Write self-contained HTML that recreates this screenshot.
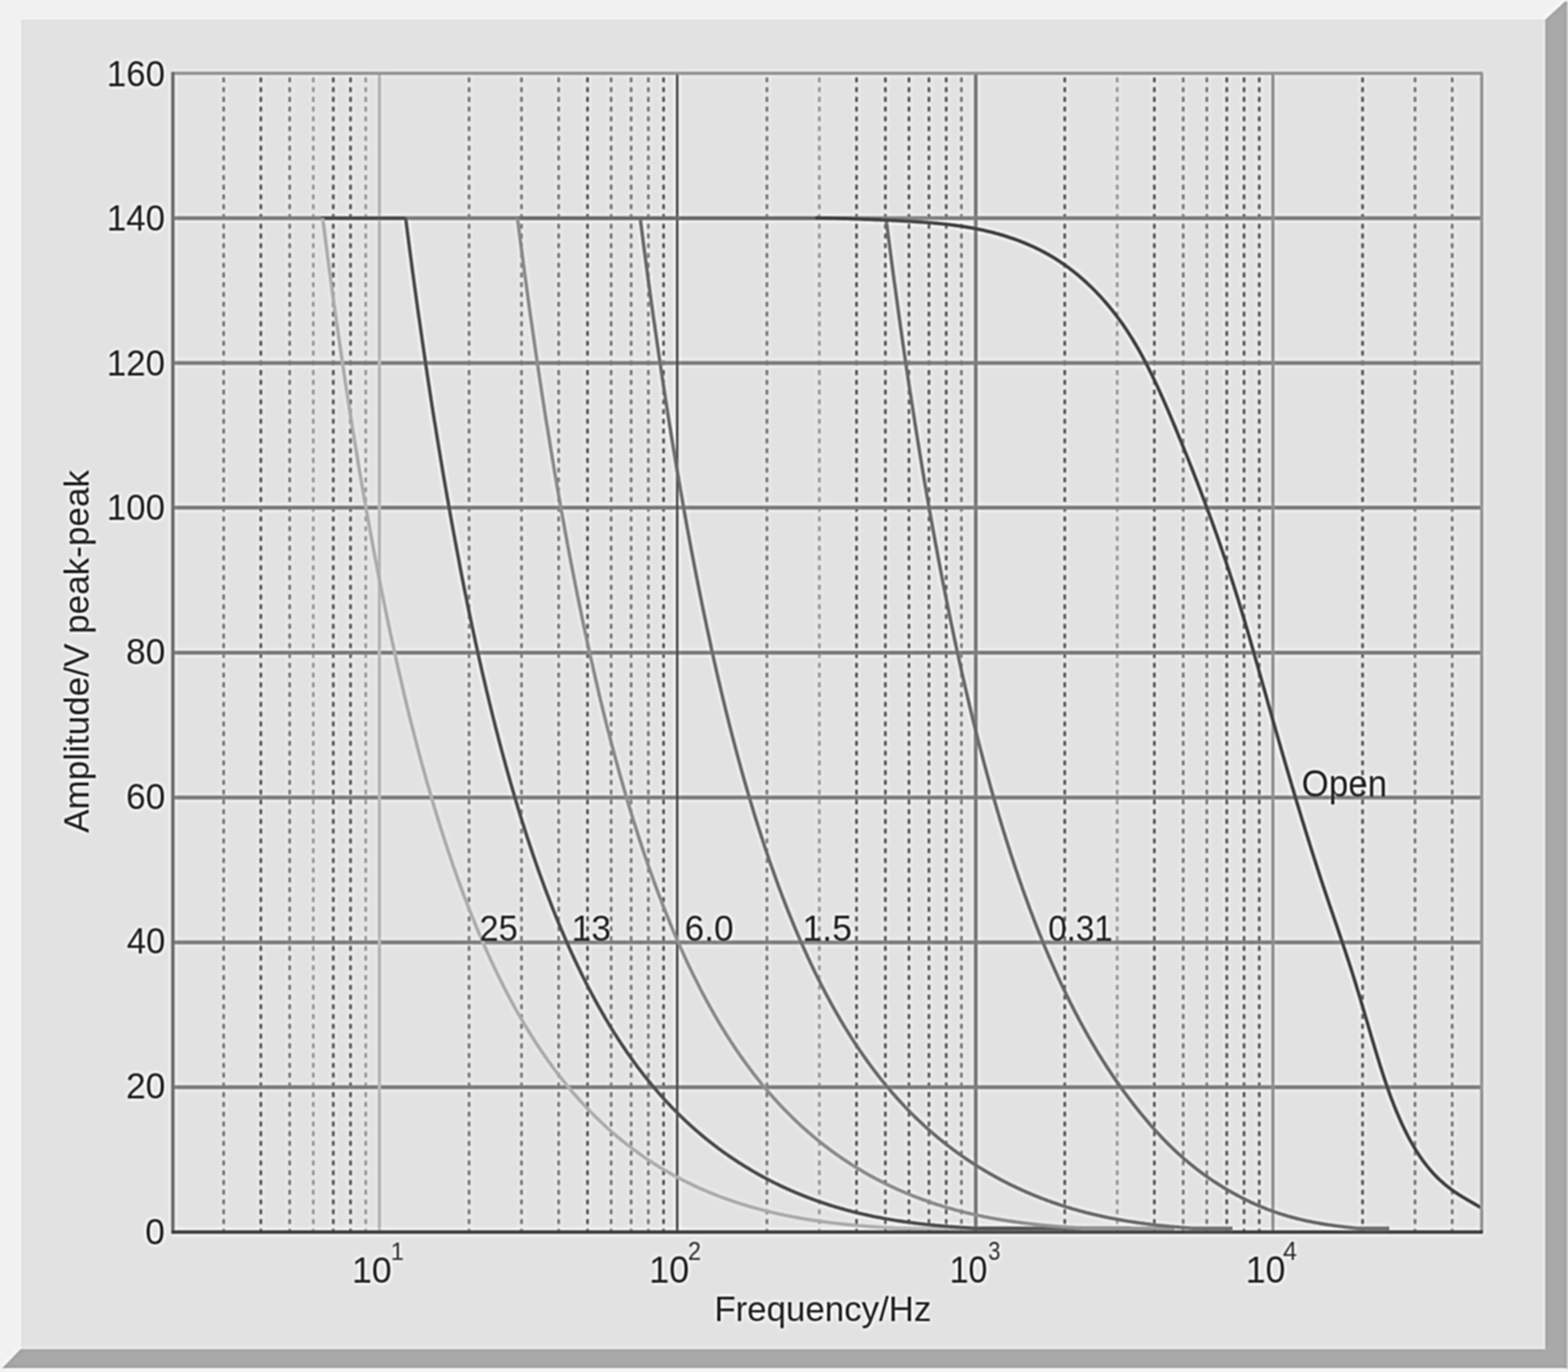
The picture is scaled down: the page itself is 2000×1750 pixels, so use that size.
<!DOCTYPE html>
<html><head><meta charset="utf-8"><title>Amplitude vs Frequency</title>
<style>html,body{margin:0;padding:0;background:#f1f1f1;overflow:hidden}svg{display:block}</style>
</head><body>
<svg width="2000" height="1750" viewBox="0 0 2000 1750"><defs><filter id="soft" x="-40" y="-40" width="2080" height="1830" filterUnits="userSpaceOnUse" color-interpolation-filters="sRGB"><feGaussianBlur in="SourceGraphic" stdDeviation="0.8" result="b1"/><feGaussianBlur in="SourceGraphic" stdDeviation="2.4" result="b2"/><feComposite in="b1" in2="b2" operator="arithmetic" k1="0" k2="1.8" k3="-0.8" k4="0"/></filter></defs><g filter="url(#soft)"><rect x="-60" y="-60" width="2120" height="1870" fill="#f1f1f1"/>
<polygon points="1971,25 1996,2 1998,2 1998,1745 3,1745 26,1721 1971,1721" fill="#a9a9a9"/>
<polygon points="1998,2 2000,2 2000,1746 1998,1746" fill="#c4c4c4"/>
<rect x="27" y="25" width="1944" height="1696" fill="#e2e2e2"/>
<path d="M332.7 93.4V1571.4M425.1 93.4V1571.4M447.1 93.4V1571.4M749.4 93.4V1571.4M846.4 93.4V1571.4M1092.5 93.4V1571.4M1129.3 93.4V1571.4M1159.4 93.4V1571.4M1184.9 93.4V1571.4M1206.9 93.4V1571.4M1358.1 93.4V1571.4M1472.4 93.4V1571.4M1564.8 93.4V1571.4M1586.8 93.4V1571.4M1606.2 93.4V1571.4M1738 93.4V1571.4" stroke="#6d6d6d" stroke-width="3.3" fill="none" stroke-dasharray="6.3 6.146" stroke-dashoffset="7.142"/>
<path d="M285.3 93.4V1571.4M369.5 93.4V1571.4M598.3 93.4V1571.4M665.2 93.4V1571.4M712.6 93.4V1571.4M779.5 93.4V1571.4M805 93.4V1571.4M827 93.4V1571.4M978.2 93.4V1571.4M1226.3 93.4V1571.4M1509.2 93.4V1571.4M1539.3 93.4V1571.4M1804.9 93.4V1571.4M1852.3 93.4V1571.4" stroke="#888888" stroke-width="3.3" fill="none" stroke-dasharray="6.3 6.146" stroke-dashoffset="7.142"/>
<path d="M399.6 93.4V1571.4M466.5 93.4V1571.4M1045.1 93.4V1571.4M1425 93.4V1571.4" stroke="#a3a3a3" stroke-width="3.3" fill="none" stroke-dasharray="6.3 6.146" stroke-dashoffset="7.142"/>
<path d="M220.5 1386.7H1889.9M220.5 1201.9H1889.9M220.5 1017.2H1889.9M220.5 832.4H1889.9M220.5 647.6H1889.9M220.5 462.9H1889.9M220.5 278.2H1889.9" stroke="#888888" stroke-width="5.0" fill="none"/>
<path d="M483.9 93.4V1571.4" stroke="#b9b9b9" stroke-width="4.0" fill="none"/>
<path d="M863.8 93.4V1571.4" stroke="#5a5a5a" stroke-width="3.0" fill="none"/>
<path d="M1244.6 93.4V1571.4" stroke="#868686" stroke-width="4.8" fill="none"/>
<path d="M1623.6 93.4V1571.4" stroke="#969696" stroke-width="3.8" fill="none"/>
<polyline points="410,278.2 517.5,278.2" stroke="#5e5e5e" stroke-width="4.4" fill="none" stroke-linejoin="round"/>
<polyline points="660.2,278.2 816.7,278.2" stroke="#787878" stroke-width="4.4" fill="none" stroke-linejoin="round"/>
<polyline points="816.7,278.2 1040,278.2" stroke="#777777" stroke-width="4.4" fill="none" stroke-linejoin="round"/>
<polyline points="411.8,278.2 411.8,280.7 412,282.3 412.2,283.8 412.4,285.4 412.7,287 412.9,288.6 413.1,290.1 413.3,291.7 413.5,293.2 413.7,294.8 413.9,296.4 414.1,297.9 414.3,299.5 414.5,301 414.7,302.6 414.9,304.1 415.1,305.7 415.3,307.2 415.5,308.8 415.7,310.3 415.9,311.9 416.1,313.4 416.3,314.9 416.5,316.5 416.7,318 416.9,319.5 417.1,321.1 417.3,322.6 417.5,324.1 417.7,325.6 417.9,327.2 418.1,328.7 418.3,330.2 418.5,331.7 418.7,333.2 418.9,334.7 419.1,336.3 419.3,337.8 419.5,339.3 419.7,340.8 419.9,342.3 420.1,343.8 420.3,345.3 420.5,346.8 420.7,348.3 420.9,349.8 421.1,351.3 421.3,352.8 421.5,354.3 421.7,355.7 421.9,357.2 422.1,358.7 422.3,360.2 422.5,361.7 422.7,363.1 422.9,364.6 423.1,366.1 423.3,367.6 423.5,369 423.7,370.5 423.9,372 424.1,373.4 424.3,374.9 424.5,376.4 424.7,377.8 424.9,379.3 425.1,380.7 425.3,382.2 425.5,383.7 425.7,385.1 425.9,386.6 426.1,388 426.3,389.5 426.5,390.9 426.7,392.3 426.9,393.8 427.1,395.2 427.3,396.7 427.5,398.1 427.7,399.5 427.9,401 428.1,402.4 428.3,403.8 428.5,405.2 428.7,406.7 428.9,408.1 429.1,409.5 429.3,410.9 429.5,412.4 429.7,413.8 429.9,415.2 430.1,416.6 430.3,418 430.5,419.4 430.7,420.8 430.9,422.2 431.1,423.6 431.3,425 431.5,426.5 431.7,427.9 431.9,429.2 432.1,430.6 432.3,432 432.6,433.4 432.8,434.8 433,436.2 433.2,437.6 433.4,439 433.6,440.4 433.8,441.8 434,443.1 434.2,444.5 434.4,445.9 434.6,447.3 434.8,448.6 435,450 435.2,451.4 435.4,452.8 435.6,454.1 435.8,455.5 436,456.9 436.2,458.2 436.4,459.6 436.6,460.9 436.8,462.3 437,463.7 437.2,465 437.4,466.4 437.6,467.7 437.8,469.1 438,470.4 438.2,471.8 438.4,473.1 438.6,474.4 438.8,475.8 439,477.1 439.2,478.5 439.4,479.8 439.6,481.1 439.8,482.5 440,483.8 440.2,485.1 440.4,486.5 440.6,487.8 440.8,489.1 441,490.4 441.2,491.8 441.4,493.1 441.6,494.4 441.8,495.7 442,497 442.2,498.3 442.4,499.7 442.6,501 442.8,502.3 443,503.6 443.2,504.9 443.4,506.2 443.6,507.5 443.8,508.8 444,510.1 444.2,511.4 444.4,512.7 444.6,514 444.8,515.3 445,516.6 445.2,517.9 445.4,519.2 445.6,520.4 445.8,521.7 446,523 446.2,524.3 446.4,525.6 446.6,526.9 446.8,528.1 447,529.4 447.2,530.7 447.4,532 447.6,533.2 447.8,534.5 448,535.8 448.2,537 448.4,538.3 448.6,539.6 448.8,540.8 449,542.1 449.2,543.3 449.4,544.6 449.6,545.9 449.8,547.1 450,548.4 450.2,549.6 450.4,550.9 450.6,552.1 450.8,553.4 451,554.6 451.2,555.9 451.4,557.1 451.6,558.3 451.8,559.6 453.3,568.8 454.8,577.9 456.3,586.9 457.8,595.8 459.3,604.7 460.8,613.5 462.3,622.2 463.8,630.8 465.3,639.4 466.8,647.8 468.3,656.2 469.8,664.5 471.3,672.8 472.8,681 474.3,689.1 475.8,697.1 477.3,705 478.8,712.9 480.3,720.7 481.8,728.5 483.3,736.1 484.8,743.7 486.3,751.3 487.8,758.7 489.3,766.1 490.8,773.5 492.3,780.7 493.8,787.9 495.3,795.1 496.8,802.1 498.3,809.1 499.8,816.1 501.3,823 502.8,829.8 504.3,836.5 505.8,843.2 507.3,849.9 508.8,856.5 510.3,863 511.8,869.4 513.3,875.8 514.7,882.2 516.2,888.5 517.7,894.7 519.2,900.9 520.7,907 522.2,913.1 523.7,919.1 525.2,925 526.7,930.9 528.2,936.8 529.7,942.6 531.2,948.3 532.7,954 534.2,959.7 535.7,965.3 537.2,970.8 538.7,976.3 540.2,981.7 541.7,987.1 543.2,992.5 544.7,997.8 546.2,1003 547.7,1008.2 549.2,1013.4 550.7,1018.5 552.2,1023.6 553.7,1028.6 555.2,1033.6 556.7,1038.5 558.2,1043.4 559.7,1048.2 561.2,1053 562.7,1057.8 564.2,1062.5 565.7,1067.2 567.2,1071.8 568.7,1076.4 570.2,1080.9 571.7,1085.4 573.2,1089.9 574.7,1094.3 576.2,1098.7 577.6,1103.1 579.1,1107.4 580.6,1111.6 582.1,1115.9 583.6,1120.1 585.1,1124.2 586.6,1128.3 588.1,1132.4 589.6,1136.5 591.1,1140.5 592.6,1144.5 594.1,1148.4 595.6,1152.3 597.1,1156.2 598.6,1160 600.1,1163.8 601.6,1167.6 603.1,1171.3 604.6,1175 606.1,1178.7 607.6,1182.3 609.1,1185.9 610.6,1189.5 612.1,1193 613.6,1196.5 615.1,1200 616.6,1203.5 618.1,1206.9 619.6,1210.3 621.1,1213.6 622.6,1216.9 624.1,1220.2 625.6,1223.5 627.1,1226.7 628.6,1229.9 630.1,1233.1 631.6,1236.3 633.1,1239.4 634.6,1242.5 636.1,1245.6 637.6,1248.6 639.1,1251.6 640.6,1254.6 642,1257.6 643.5,1260.5 645,1263.4 646.5,1266.3 648,1269.1 649.5,1272 651,1274.8 652.5,1277.6 654,1280.3 655.5,1283.1 657,1285.8 658.5,1288.5 660,1291.1 661.5,1293.8 663,1296.4 664.5,1299 666,1301.5 667.5,1304.1 669,1306.6 670.5,1309.1 672,1311.6 673.5,1314 675,1316.5 676.5,1318.9 678,1321.3 679.5,1323.7 681,1326 682.5,1328.3 684,1330.7 685.5,1332.9 687,1335.2 688.5,1337.5 690,1339.7 691.5,1341.9 693,1344.1 694.5,1346.3 696,1348.4 697.5,1350.6 699,1352.7 700.5,1354.8 702,1356.8 703.5,1358.9 704.9,1360.9 706.4,1363 707.9,1365 709.4,1367 710.9,1368.9 712.4,1370.9 713.9,1372.8 715.4,1374.8 716.9,1376.7 718.4,1378.5 719.9,1380.4 721.4,1382.3 722.9,1384.1 724.4,1385.9 725.9,1387.7 727.4,1389.5 728.9,1391.3 730.4,1393.1 731.9,1394.8 733.4,1396.5 734.9,1398.3 736.4,1400 737.9,1401.6 739.4,1403.3 740.9,1405 742.4,1406.6 743.9,1408.2 745.4,1409.8 746.9,1411.4 748.4,1413 749.9,1414.6 751.4,1416.2 752.9,1417.7 754.4,1419.2 755.9,1420.7 757.4,1422.2 758.9,1423.7 760.4,1425.2 761.9,1426.7 763.4,1428.1 764.9,1429.6 766.4,1431 767.9,1432.4 769.3,1433.8 770.8,1435.2 772.3,1436.6 773.8,1438 775.3,1439.3 776.8,1440.6 778.3,1442 779.8,1443.3 781.3,1444.6 782.8,1445.9 784.3,1447.2 785.8,1448.5 787.3,1449.7 788.8,1451 790.3,1452.2 791.8,1453.5 793.3,1454.7 794.8,1455.9 796.3,1457.1 797.8,1458.3 799.3,1459.4 800.8,1460.6 802.3,1461.8 803.8,1462.9 805.3,1464.1 806.8,1465.2 808.3,1466.3 809.8,1467.4 811.3,1468.5 812.8,1469.6 814.3,1470.7 815.8,1471.7 817.3,1472.8 818.8,1473.9 820.3,1474.9 821.8,1475.9 823.3,1477 824.8,1478 826.3,1479 827.8,1480 829.3,1481 830.8,1481.9 832.2,1482.9 833.7,1483.9 835.2,1484.8 836.7,1485.8 838.2,1486.7 839.7,1487.6 841.2,1488.6 842.7,1489.5 844.2,1490.4 845.7,1491.3 847.2,1492.2 848.7,1493.1 850.2,1493.9 851.7,1494.8 853.2,1495.7 854.7,1496.5 856.2,1497.3 857.7,1498.2 859.2,1499 860.7,1499.8 862.2,1500.6 863.7,1501.4 865.2,1502.2 866.7,1503 868.2,1503.8 869.7,1504.6 871.2,1505.4 872.7,1506.1 874.2,1506.9 875.7,1507.6 877.2,1508.4 878.7,1509.1 880.2,1509.8 881.7,1510.5 883.2,1511.3 884.7,1512 886.2,1512.7 887.7,1513.4 889.2,1514.1 890.7,1514.7 892.2,1515.4 893.7,1516.1 895.2,1516.7 896.6,1517.4 898.1,1518 899.6,1518.7 901.1,1519.3 902.6,1520 904.1,1520.6 905.6,1521.2 907.1,1521.8 908.6,1522.4 910.1,1523 911.6,1523.6 913.1,1524.2 914.6,1524.8 916.1,1525.4 917.6,1526 919.1,1526.5 920.6,1527.1 922.1,1527.6 923.6,1528.2 925.1,1528.7 926.6,1529.3 928.1,1529.8 929.6,1530.3 931.1,1530.9 932.6,1531.4 934.1,1531.9 935.6,1532.4 937.1,1532.9 938.6,1533.4 940.1,1533.9 941.6,1534.4 943.1,1534.9 944.6,1535.3 946.1,1535.8 947.6,1536.3 949.1,1536.7 950.6,1537.2 952.1,1537.6 953.6,1538.1 955.1,1538.5 956.6,1539 958.1,1539.4 959.5,1539.8 961,1540.3 962.5,1540.7 964,1541.1 965.5,1541.5 967,1541.9 968.5,1542.3 970,1542.7 971.5,1543.1 973,1543.5 974.5,1543.9 976,1544.3 977.5,1544.6 979,1545 980.5,1545.4 982,1545.7 983.5,1546.1 985,1546.4 986.5,1546.8 988,1547.1 989.5,1547.5 991,1547.8 992.5,1548.2 994,1548.5 995.5,1548.8 997,1549.1 998.5,1549.4 1000,1549.8 1001.5,1550.1 1003,1550.4 1004.5,1550.7 1006,1551 1007.5,1551.3 1009,1551.6 1010.5,1551.9 1012,1552.1 1013.5,1552.4 1015,1552.7 1016.5,1553 1018,1553.3 1019.5,1553.5 1021,1553.8 1022.5,1554 1023.9,1554.3 1025.4,1554.6 1026.9,1554.8 1028.4,1555.1 1029.9,1555.3 1031.4,1555.5 1032.9,1555.8 1034.4,1556 1035.9,1556.2 1037.4,1556.5 1038.9,1556.7 1040.4,1556.9 1041.9,1557.1 1043.4,1557.4 1044.9,1557.6 1046.4,1557.8 1047.9,1558 1049.4,1558.2 1050.9,1558.4 1052.4,1558.6 1053.9,1558.8 1055.4,1559 1056.9,1559.2 1058.4,1559.4 1059.9,1559.6 1061.4,1559.8 1062.9,1559.9 1064.4,1560.1 1065.9,1560.3 1067.4,1560.5 1068.9,1560.6 1070.4,1560.8 1071.9,1561 1073.4,1561.1 1074.9,1561.3 1076.4,1561.5 1077.9,1561.6 1079.4,1561.8 1080.9,1561.9 1082.4,1562.1 1083.9,1562.2 1085.4,1562.4 1086.9,1562.5 1088.3,1562.7 1089.8,1562.8 1091.3,1562.9 1092.8,1563.1 1094.3,1563.2 1095.8,1563.4 1097.3,1563.5 1098.8,1563.6 1100.3,1563.7 1101.8,1563.9 1103.3,1564 1104.8,1564.1 1106.3,1564.2 1107.8,1564.3 1109.3,1564.5 1110.8,1564.6 1112.3,1564.7 1113.8,1564.8 1115.3,1564.9 1116.8,1565 1118.3,1565.1 1119.8,1565.2 1121.3,1565.3 1122.8,1565.4 1124.3,1565.5 1125.8,1565.6 1127.3,1565.7 1128.8,1565.8 1130.3,1565.9 1131.8,1566 1133.3,1566.1 1134.8,1566.2 1136.3,1566.3 1137.8,1566.3 1139.3,1566.4 1140.8,1566.5 1142.3,1566.6 1143.8,1566.7 1145.3,1566.8 1146.8,1566.8 1148.3,1566.8 1149.8,1566.8 1151.2,1566.8 1152.7,1566.8 1154.2,1566.8 1155.7,1566.8 1157.2,1566.8 1158.7,1566.8 1160.2,1566.8 1161.7,1566.8 1163.2,1566.8 1164.7,1566.8 1166.2,1566.8 1167.7,1566.8 1169.2,1566.8 1170.7,1566.8 1172.2,1566.8 1173.7,1566.8 1175.2,1566.8 1176.7,1566.8 1178.2,1566.8 1179.7,1566.8 1181.2,1566.8 1182.7,1566.8 1184.2,1566.8 1185.7,1566.8 1187.2,1566.8 1188.7,1566.8 1190.2,1566.8 1191.7,1566.8 1193.2,1566.8 1194.7,1566.8 1196.2,1566.8 1197.7,1566.8 1199.2,1566.8 1200.7,1566.8 1202.2,1566.8 1203.7,1566.8 1205.2,1566.8 1206.7,1566.8 1208.2,1566.8 1209.7,1566.8 1211.2,1566.8 1212.7,1566.8 1214.2,1566.8 1215.6,1566.8 1217.1,1566.8 1218.6,1566.8 1220.1,1566.8 1221.6,1566.8 1223.1,1566.8 1224.6,1566.8 1226.1,1566.8 1227.6,1566.8 1229.1,1566.8 1230.6,1566.8 1232.1,1566.8 1233.6,1566.8 1235.1,1566.8 1236.6,1566.8 1238.1,1566.8 1239.6,1566.8 1241.1,1566.8 1242.6,1566.8 1244.1,1566.8 1245.6,1566.8 1247.1,1566.8 1248.6,1566.8 1250.1,1566.8 1251.6,1566.8 1253.1,1566.8 1254.6,1566.8 1256.1,1566.8 1257.6,1566.8 1259.1,1566.8 1260.6,1566.8 1262.1,1566.8 1263.6,1566.8 1265.1,1566.8 1266.6,1566.8 1268.1,1566.8 1269.6,1566.8 1271.1,1566.8 1272.6,1566.8 1274.1,1566.8 1275.6,1566.8 1277.1,1566.8 1278.5,1566.8 1280,1566.8 1281.5,1566.8 1283,1566.8 1284.5,1566.8 1286,1566.8 1287.5,1566.8 1289,1566.8 1290.5,1566.8 1292,1566.8 1293.5,1566.8 1295,1566.8 1296.5,1566.8 1298,1566.8 1299.5,1566.8 1301,1566.8 1302.5,1566.8 1304,1566.8 1305.5,1566.8 1307,1566.8 1308.5,1566.8 1310,1566.8 1310,1566.8" stroke="#b2b2b2" stroke-width="4.4" fill="none" stroke-linejoin="round"/>
<polyline points="517.5,278.2 517.7,280.4 517.9,282 518.1,283.5 518.3,285.1 518.5,286.7 518.7,288.2 518.9,289.8 519.1,291.4 519.3,292.9 519.5,294.5 519.7,296 519.9,297.6 520.1,299.1 520.3,300.7 520.5,302.2 520.7,303.8 520.9,305.3 521.1,306.9 521.3,308.4 521.5,310 521.7,311.5 521.9,313 522.1,314.6 522.3,316.1 522.5,317.6 522.7,319.2 522.9,320.7 523.1,322.2 523.3,323.7 523.5,325.3 523.7,326.8 523.9,328.3 524.1,329.8 524.3,331.3 524.5,332.8 524.7,334.3 524.9,335.8 525.1,337.4 525.3,338.9 525.5,340.4 525.7,341.9 525.9,343.4 526.1,344.9 526.3,346.4 526.5,347.8 526.7,349.3 526.9,350.8 527.1,352.3 527.3,353.8 527.5,355.3 527.7,356.8 527.9,358.3 528.1,359.7 528.3,361.2 528.5,362.7 528.7,364.2 528.9,365.6 529.1,367.1 529.3,368.6 529.5,370 529.7,371.5 529.9,373 530.1,374.4 530.3,375.9 530.5,377.3 530.7,378.8 530.9,380.2 531.1,381.7 531.3,383.1 531.5,384.6 531.7,386 531.9,387.5 532.1,388.9 532.3,390.4 532.5,391.8 532.7,393.3 532.9,394.7 533.1,396.1 533.3,397.6 533.5,399 533.7,400.4 533.9,401.8 534.1,403.3 534.3,404.7 534.6,406.1 534.8,407.5 535,409 535.2,410.4 535.4,411.8 535.6,413.2 535.8,414.6 536,416 536.2,417.4 536.4,418.8 536.6,420.2 536.8,421.7 537,423.1 537.2,424.5 537.4,425.9 537.6,427.2 537.8,428.6 538,430 538.2,431.4 538.4,432.8 538.6,434.2 538.8,435.6 539,437 539.2,438.4 539.4,439.7 539.6,441.1 539.8,442.5 540,443.9 540.2,445.3 540.4,446.6 540.6,448 540.8,449.4 541,450.7 541.2,452.1 541.4,453.5 541.6,454.8 541.8,456.2 542,457.5 542.2,458.9 542.4,460.3 542.6,461.6 542.8,463 543,464.3 543.2,465.7 543.4,467 543.6,468.4 543.8,469.7 544,471.1 544.2,472.4 544.4,473.7 544.6,475.1 544.8,476.4 545,477.7 545.2,479.1 545.4,480.4 545.6,481.7 545.8,483.1 546,484.4 546.2,485.7 546.4,487.1 546.6,488.4 546.8,489.7 547,491 547.2,492.3 547.4,493.6 547.6,495 547.8,496.3 548,497.6 548.2,498.9 548.4,500.2 548.6,501.5 548.8,502.8 549,504.1 549.2,505.4 549.4,506.7 549.6,508 549.8,509.3 550,510.6 550.2,511.9 550.4,513.2 550.6,514.5 550.8,515.8 551,517.1 551.2,518.3 551.4,519.6 551.6,520.9 551.8,522.2 552,523.5 552.2,524.8 552.4,526 552.6,527.3 552.8,528.6 553,529.8 553.2,531.1 553.4,532.4 553.6,533.7 553.8,534.9 554,536.2 554.2,537.4 554.5,538.7 554.7,540 554.9,541.2 555.1,542.5 555.3,543.7 555.5,545 555.7,546.2 555.9,547.5 556.1,548.7 556.3,550 556.5,551.2 556.7,552.5 556.9,553.7 557.1,555 557.3,556.2 557.5,557.4 559,566.6 560.5,575.7 562,584.8 563.5,593.7 565,602.6 566.5,611.3 568,620 569.5,628.7 571,637.2 572.5,645.7 574,654.1 575.5,662.4 577,670.6 578.5,678.8 580,686.9 581.5,694.9 583,702.9 584.5,710.7 586,718.5 587.4,726.3 588.9,733.9 590.4,741.5 591.9,749.1 593.4,756.5 594.9,763.9 596.4,771.2 597.9,778.5 599.4,785.7 600.9,792.8 602.4,799.9 603.9,806.9 605.4,813.8 606.9,820.7 608.4,827.5 609.9,834.3 611.4,841 612.9,847.6 614.4,854.2 615.9,860.7 617.4,867.1 618.9,873.5 620.4,879.9 621.9,886.1 623.4,892.4 624.9,898.5 626.4,904.7 627.9,910.7 629.4,916.7 630.9,922.7 632.4,928.6 633.9,934.4 635.4,940.2 636.9,945.9 638.4,951.6 639.9,957.2 641.4,962.8 642.9,968.4 644.4,973.9 645.9,979.3 647.4,984.7 648.9,990 650.4,995.3 651.9,1000.5 653.4,1005.7 654.9,1010.9 656.4,1016 657.9,1021 659.4,1026.1 660.9,1031 662.4,1035.9 663.9,1040.8 665.4,1045.7 666.9,1050.4 668.4,1055.2 669.9,1059.9 671.4,1064.6 672.9,1069.2 674.4,1073.8 675.9,1078.3 677.4,1082.8 678.9,1087.2 680.4,1091.7 681.9,1096 683.4,1100.4 684.9,1104.7 686.4,1108.9 687.9,1113.2 689.4,1117.3 690.9,1121.5 692.4,1125.6 693.9,1129.7 695.4,1133.7 696.9,1137.7 698.4,1141.7 699.9,1145.6 701.4,1149.5 702.9,1153.4 704.4,1157.2 705.9,1161 707.4,1164.7 708.9,1168.5 710.4,1172.2 711.9,1175.8 713.4,1179.4 714.9,1183 716.4,1186.6 717.9,1190.1 719.4,1193.6 720.9,1197.1 722.4,1200.5 723.9,1203.9 725.4,1207.3 726.9,1210.6 728.4,1214 729.9,1217.2 731.4,1220.5 732.9,1223.7 734.4,1226.9 735.9,1230.1 737.4,1233.2 738.9,1236.3 740.4,1239.4 741.9,1242.5 743.4,1245.5 744.9,1248.5 746.4,1251.5 747.9,1254.5 749.4,1257.4 750.9,1260.3 752.4,1263.2 753.9,1266 755.4,1268.8 756.9,1271.6 758.4,1274.4 759.9,1277.1 761.4,1279.9 762.9,1282.6 764.4,1285.2 765.9,1287.9 767.4,1290.5 768.9,1293.1 770.4,1295.7 771.9,1298.3 773.4,1300.8 774.9,1303.3 776.4,1305.8 777.8,1308.3 779.3,1310.8 780.8,1313.2 782.3,1315.6 783.8,1318 785.3,1320.3 786.8,1322.7 788.3,1325 789.8,1327.3 791.3,1329.6 792.8,1331.9 794.3,1334.1 795.8,1336.3 797.3,1338.5 798.8,1340.7 800.3,1342.9 801.8,1345 803.3,1347.2 804.8,1349.3 806.3,1351.4 807.8,1353.4 809.3,1355.5 810.8,1357.5 812.3,1359.6 813.8,1361.6 815.3,1363.5 816.8,1365.5 818.3,1367.5 819.8,1369.4 821.3,1371.3 822.8,1373.2 824.3,1375.1 825.8,1377 827.3,1378.8 828.8,1380.7 830.3,1382.5 831.8,1384.3 833.3,1386.1 834.8,1387.9 836.3,1389.6 837.8,1391.4 839.3,1393.1 840.8,1394.8 842.3,1396.5 843.8,1398.2 845.3,1399.9 846.8,1401.5 848.3,1403.2 849.8,1404.8 851.3,1406.4 852.8,1408 854.3,1409.6 855.8,1411.2 857.3,1412.7 858.8,1414.3 860.3,1415.8 861.8,1417.3 863.3,1418.8 864.8,1420.3 866.3,1421.8 867.8,1423.3 869.3,1424.7 870.8,1426.2 872.3,1427.6 873.8,1429 875.3,1430.5 876.8,1431.9 878.3,1433.2 879.8,1434.6 881.3,1436 882.8,1437.3 884.3,1438.7 885.8,1440 887.3,1441.3 888.8,1442.6 890.3,1443.9 891.8,1445.2 893.3,1446.5 894.8,1447.7 896.3,1449 897.8,1450.2 899.3,1451.5 900.8,1452.7 902.3,1453.9 903.8,1455.1 905.3,1456.3 906.8,1457.5 908.3,1458.6 909.8,1459.8 911.3,1461 912.8,1462.1 914.3,1463.2 915.8,1464.4 917.3,1465.5 918.8,1466.6 920.3,1467.7 921.8,1468.8 923.3,1469.8 924.8,1470.9 926.3,1472 927.8,1473 929.3,1474.1 930.8,1475.1 932.3,1476.1 933.8,1477.1 935.3,1478.2 936.8,1479.2 938.3,1480.1 939.8,1481.1 941.3,1482.1 942.8,1483.1 944.3,1484 945.8,1485 947.3,1485.9 948.8,1486.9 950.3,1487.8 951.8,1488.7 953.3,1489.6 954.8,1490.5 956.3,1491.4 957.8,1492.3 959.3,1493.2 960.8,1494.1 962.3,1494.9 963.8,1495.8 965.3,1496.7 966.7,1497.5 968.2,1498.3 969.7,1499.2 971.2,1500 972.7,1500.8 974.2,1501.6 975.7,1502.4 977.2,1503.2 978.7,1504 980.2,1504.8 981.7,1505.6 983.2,1506.4 984.7,1507.1 986.2,1507.9 987.7,1508.6 989.2,1509.4 990.7,1510.1 992.2,1510.8 993.7,1511.6 995.2,1512.3 996.7,1513 998.2,1513.7 999.7,1514.4 1001.2,1515.1 1002.7,1515.8 1004.2,1516.5 1005.7,1517.1 1007.2,1517.8 1008.7,1518.5 1010.2,1519.1 1011.7,1519.8 1013.2,1520.4 1014.7,1521 1016.2,1521.7 1017.7,1522.3 1019.2,1522.9 1020.7,1523.5 1022.2,1524.1 1023.7,1524.7 1025.2,1525.3 1026.7,1525.9 1028.2,1526.5 1029.7,1527.1 1031.2,1527.7 1032.7,1528.2 1034.2,1528.8 1035.7,1529.4 1037.2,1529.9 1038.7,1530.5 1040.2,1531 1041.7,1531.5 1043.2,1532.1 1044.7,1532.6 1046.2,1533.1 1047.7,1533.6 1049.2,1534.1 1050.7,1534.6 1052.2,1535.1 1053.7,1535.6 1055.2,1536.1 1056.7,1536.6 1058.2,1537.1 1059.7,1537.6 1061.2,1538 1062.7,1538.5 1064.2,1539 1065.7,1539.4 1067.2,1539.9 1068.7,1540.3 1070.2,1540.7 1071.7,1541.2 1073.2,1541.6 1074.7,1542 1076.2,1542.4 1077.7,1542.9 1079.2,1543.3 1080.7,1543.7 1082.2,1544.1 1083.7,1544.5 1085.2,1544.9 1086.7,1545.3 1088.2,1545.6 1089.7,1546 1091.2,1546.4 1092.7,1546.8 1094.2,1547.1 1095.7,1547.5 1097.2,1547.8 1098.7,1548.2 1100.2,1548.5 1101.7,1548.9 1103.2,1549.2 1104.7,1549.5 1106.2,1549.9 1107.7,1550.2 1109.2,1550.5 1110.7,1550.8 1112.2,1551.2 1113.7,1551.5 1115.2,1551.8 1116.7,1552.1 1118.2,1552.4 1119.7,1552.7 1121.2,1552.9 1122.7,1553.2 1124.2,1553.5 1125.7,1553.8 1127.2,1554.1 1128.7,1554.3 1130.2,1554.6 1131.7,1554.9 1133.2,1555.1 1134.7,1555.4 1136.2,1555.6 1137.7,1555.9 1139.2,1556.1 1140.7,1556.4 1142.2,1556.6 1143.7,1556.9 1145.2,1557.1 1146.7,1557.3 1148.2,1557.5 1149.7,1557.8 1151.2,1558 1152.7,1558.2 1154.2,1558.4 1155.7,1558.6 1157.1,1558.8 1158.6,1559 1160.1,1559.2 1161.6,1559.4 1163.1,1559.6 1164.6,1559.8 1166.1,1560 1167.6,1560.2 1169.1,1560.4 1170.6,1560.6 1172.1,1560.8 1173.6,1560.9 1175.1,1561.1 1176.6,1561.3 1178.1,1561.4 1179.6,1561.6 1181.1,1561.8 1182.6,1561.9 1184.1,1562.1 1185.6,1562.2 1187.1,1562.4 1188.6,1562.5 1190.1,1562.7 1191.6,1562.8 1193.1,1563 1194.6,1563.1 1196.1,1563.3 1197.6,1563.4 1199.1,1563.5 1200.6,1563.7 1202.1,1563.8 1203.6,1563.9 1205.1,1564.1 1206.6,1564.2 1208.1,1564.3 1209.6,1564.4 1211.1,1564.6 1212.6,1564.7 1214.1,1564.8 1215.6,1564.9 1217.1,1565 1218.6,1565.1 1220.1,1565.2 1221.6,1565.3 1223.1,1565.4 1224.6,1565.5 1226.1,1565.6 1227.6,1565.7 1229.1,1565.8 1230.6,1565.9 1232.1,1566 1233.6,1566.1 1235.1,1566.2 1236.6,1566.3 1238.1,1566.4 1239.6,1566.5 1241.1,1566.6 1242.6,1566.7 1244.1,1566.7 1245.6,1566.8 1247.1,1566.8 1248.6,1566.8 1250.1,1566.8 1251.6,1566.8 1253.1,1566.8 1254.6,1566.8 1256.1,1566.8 1257.6,1566.8 1259.1,1566.8 1260.6,1566.8 1262.1,1566.8 1263.6,1566.8 1265.1,1566.8 1266.6,1566.8 1268.1,1566.8 1269.6,1566.8 1271.1,1566.8 1272.6,1566.8 1274.1,1566.8 1275.6,1566.8 1277.1,1566.8 1278.6,1566.8 1280.1,1566.8 1281.6,1566.8 1283.1,1566.8 1284.6,1566.8 1286.1,1566.8 1287.6,1566.8 1289.1,1566.8 1290.6,1566.8 1292.1,1566.8 1293.6,1566.8 1295.1,1566.8 1296.6,1566.8 1298.1,1566.8 1299.6,1566.8 1301.1,1566.8 1302.6,1566.8 1304.1,1566.8 1305.6,1566.8 1307.1,1566.8 1308.6,1566.8 1310.1,1566.8 1311.6,1566.8 1313.1,1566.8 1314.6,1566.8 1316.1,1566.8 1317.6,1566.8 1319.1,1566.8 1320.6,1566.8 1322.1,1566.8 1323.6,1566.8 1325.1,1566.8 1326.6,1566.8 1328.1,1566.8 1329.6,1566.8 1331.1,1566.8 1332.6,1566.8 1334.1,1566.8 1335.6,1566.8 1337.1,1566.8 1338.6,1566.8 1340.1,1566.8 1341.6,1566.8 1343.1,1566.8 1344.6,1566.8 1346.1,1566.8 1347.5,1566.8 1349,1566.8 1350.5,1566.8 1352,1566.8 1353.5,1566.8 1355,1566.8 1356.5,1566.8 1358,1566.8 1359.5,1566.8 1361,1566.8 1362.5,1566.8 1364,1566.8 1365.5,1566.8 1367,1566.8 1368.5,1566.8 1370,1566.8 1371.5,1566.8 1373,1566.8 1374.5,1566.8 1376,1566.8 1377.5,1566.8 1379,1566.8 1380.5,1566.8 1382,1566.8 1383.5,1566.8 1385,1566.8 1386.5,1566.8 1388,1566.8 1389.5,1566.8 1391,1566.8 1392.5,1566.8 1394,1566.8 1395.5,1566.8 1397,1566.8 1398.5,1566.8 1400,1566.8 1401.5,1566.8 1403,1566.8 1404.5,1566.8 1406,1566.8 1407.5,1566.8 1409,1566.8 1410.5,1566.8 1412,1566.8 1413.5,1566.8 1415,1566.8 1416.5,1566.8 1418,1566.8 1419.5,1566.8 1421,1566.8 1422.5,1566.8 1424,1566.8 1425.5,1566.8 1427,1566.8 1428.5,1566.8 1430,1566.8 1431.5,1566.8 1433,1566.8 1434.5,1566.8 1436,1566.8 1437.5,1566.8 1439,1566.8 1440.5,1566.8 1442,1566.8 1442,1566.8" stroke="#5e5e5e" stroke-width="4.4" fill="none" stroke-linejoin="round"/>
<polyline points="660.2,278.2 660.2,279.4 660.4,281 660.6,282.6 660.8,284.2 661,285.7 661.2,287.3 661.4,288.9 661.6,290.4 661.8,292 662,293.5 662.2,295.1 662.4,296.7 662.6,298.2 662.8,299.8 663,301.3 663.2,302.9 663.4,304.4 663.6,306 663.8,307.5 664,309 664.2,310.6 664.4,312.1 664.6,313.7 664.8,315.2 665,316.7 665.2,318.3 665.4,319.8 665.6,321.3 665.8,322.8 666,324.4 666.2,325.9 666.4,327.4 666.6,328.9 666.8,330.4 667,332 667.2,333.5 667.4,335 667.6,336.5 667.8,338 668,339.5 668.2,341 668.4,342.5 668.6,344 668.8,345.5 669,347 669.2,348.5 669.4,350 669.6,351.5 669.8,353 670,354.4 670.2,355.9 670.4,357.4 670.6,358.9 670.8,360.4 671,361.9 671.2,363.3 671.4,364.8 671.6,366.3 671.8,367.7 672,369.2 672.2,370.7 672.4,372.1 672.6,373.6 672.8,375.1 673,376.5 673.2,378 673.4,379.4 673.6,380.9 673.8,382.4 674,383.8 674.2,385.3 674.4,386.7 674.6,388.1 674.8,389.6 675,391 675.2,392.5 675.4,393.9 675.6,395.3 675.8,396.8 676,398.2 676.2,399.6 676.4,401.1 676.6,402.5 676.8,403.9 677,405.4 677.2,406.8 677.4,408.2 677.7,409.6 677.9,411 678.1,412.5 678.3,413.9 678.5,415.3 678.7,416.7 678.9,418.1 679.1,419.5 679.3,420.9 679.5,422.3 679.7,423.7 679.9,425.1 680.1,426.5 680.3,427.9 680.5,429.3 680.7,430.7 680.9,432.1 681.1,433.5 681.3,434.9 681.5,436.3 681.7,437.7 681.9,439 682.1,440.4 682.3,441.8 682.5,443.2 682.7,444.6 682.9,445.9 683.1,447.3 683.3,448.7 683.5,450 683.7,451.4 683.9,452.8 684.1,454.1 684.3,455.5 684.5,456.9 684.7,458.2 684.9,459.6 685.1,460.9 685.3,462.3 685.5,463.7 685.7,465 685.9,466.4 686.1,467.7 686.3,469.1 686.5,470.4 686.7,471.7 686.9,473.1 687.1,474.4 687.3,475.8 687.5,477.1 687.7,478.4 687.9,479.8 688.1,481.1 688.3,482.4 688.5,483.8 688.7,485.1 688.9,486.4 689.1,487.7 689.3,489.1 689.5,490.4 689.7,491.7 689.9,493 690.1,494.3 690.3,495.7 690.5,497 690.7,498.3 690.9,499.6 691.1,500.9 691.3,502.2 691.5,503.5 691.7,504.8 691.9,506.1 692.1,507.4 692.3,508.7 692.5,510 692.7,511.3 692.9,512.6 693.1,513.9 693.3,515.2 693.5,516.5 693.7,517.8 693.9,519.1 694.1,520.3 694.3,521.6 694.5,522.9 694.7,524.2 694.9,525.5 695.1,526.7 695.3,528 695.5,529.3 695.7,530.6 695.9,531.8 696.1,533.1 696.3,534.4 696.5,535.6 696.7,536.9 696.9,538.2 697.1,539.4 697.3,540.7 697.5,542 697.8,543.2 698,544.5 698.2,545.7 698.4,547 698.6,548.2 698.8,549.5 699,550.7 699.2,552 699.4,553.2 699.6,554.5 699.8,555.7 700,556.9 700.2,558.2 701.7,567.4 703.2,576.5 704.7,585.5 706.2,594.5 707.7,603.3 709.2,612.1 710.7,620.8 712.2,629.5 713.7,638 715.2,646.5 716.7,654.9 718.2,663.2 719.7,671.5 721.2,679.6 722.7,687.7 724.2,695.8 725.7,703.7 727.2,711.6 728.7,719.4 730.2,727.2 731.7,734.8 733.2,742.4 734.7,750 736.2,757.4 737.7,764.8 739.2,772.2 740.7,779.4 742.2,786.6 743.7,793.8 745.2,800.8 746.7,807.9 748.2,814.8 749.7,821.7 751.2,828.5 752.7,835.3 754.2,842 755.7,848.6 757.2,855.2 758.7,861.7 760.2,868.2 761.7,874.6 763.2,880.9 764.6,887.2 766.1,893.4 767.6,899.6 769.1,905.7 770.6,911.8 772.1,917.8 773.6,923.7 775.1,929.6 776.6,935.5 778.1,941.3 779.6,947 781.1,952.7 782.6,958.4 784.1,964 785.6,969.5 787.1,975 788.6,980.4 790.1,985.8 791.6,991.2 793.1,996.5 794.6,1001.7 796.1,1006.9 797.6,1012.1 799.1,1017.2 800.6,1022.3 802.1,1027.3 803.6,1032.2 805.1,1037.2 806.6,1042.1 808.1,1046.9 809.6,1051.7 811.1,1056.4 812.6,1061.2 814.1,1065.8 815.6,1070.5 817.1,1075 818.6,1079.6 820.1,1084.1 821.6,1088.6 823.1,1093 824.6,1097.4 826.1,1101.7 827.6,1106 829.1,1110.3 830.6,1114.5 832.1,1118.7 833.6,1122.9 835.1,1127 836.6,1131.1 838.1,1135.1 839.6,1139.1 841.1,1143.1 842.6,1147 844.1,1150.9 845.6,1154.8 847.1,1158.6 848.6,1162.4 850.1,1166.2 851.6,1169.9 853.1,1173.6 854.6,1177.3 856.1,1180.9 857.6,1184.5 859.1,1188.1 860.6,1191.6 862.1,1195.1 863.6,1198.6 865.1,1202 866.6,1205.4 868.1,1208.8 869.6,1212.2 871.1,1215.5 872.6,1218.8 874.1,1222 875.6,1225.3 877.1,1228.5 878.6,1231.7 880.1,1234.8 881.6,1237.9 883.1,1241 884.6,1244.1 886.1,1247.1 887.6,1250.1 889.1,1253.1 890.6,1256.1 892.1,1259 893.6,1261.9 895.1,1264.8 896.6,1267.6 898.1,1270.5 899.6,1273.3 901.1,1276.1 902.6,1278.8 904.1,1281.6 905.6,1284.3 907.1,1286.9 908.6,1289.6 910.1,1292.2 911.6,1294.9 913.1,1297.4 914.6,1300 916.1,1302.6 917.6,1305.1 919.1,1307.6 920.6,1310.1 922.1,1312.5 923.6,1314.9 925.1,1317.4 926.6,1319.8 928.1,1322.1 929.6,1324.5 931.1,1326.8 932.6,1329.1 934.1,1331.4 935.6,1333.7 937.1,1335.9 938.6,1338.2 940.1,1340.4 941.6,1342.6 943.1,1344.7 944.6,1346.9 946.1,1349 947.6,1351.1 949.1,1353.2 950.6,1355.3 952.1,1357.4 953.6,1359.4 955.1,1361.4 956.6,1363.4 958.1,1365.4 959.6,1367.4 961.1,1369.4 962.6,1371.3 964.1,1373.2 965.6,1375.1 967.1,1377 968.6,1378.9 970.1,1380.8 971.6,1382.6 973.1,1384.4 974.6,1386.2 976.1,1388 977.6,1389.8 979.1,1391.6 980.6,1393.3 982.1,1395 983.6,1396.8 985.1,1398.5 986.6,1400.2 988.1,1401.8 989.6,1403.5 991.1,1405.1 992.6,1406.8 994.1,1408.4 995.6,1410 997.1,1411.6 998.6,1413.2 1000.1,1414.7 1001.6,1416.3 1003.1,1417.8 1004.6,1419.3 1006.1,1420.8 1007.6,1422.3 1009.1,1423.8 1010.6,1425.3 1012.1,1426.8 1013.6,1428.2 1015.1,1429.6 1016.6,1431.1 1018.1,1432.5 1019.6,1433.9 1021.1,1435.3 1022.6,1436.6 1024.1,1438 1025.6,1439.3 1027.1,1440.7 1028.6,1442 1030.1,1443.3 1031.6,1444.6 1033.1,1445.9 1034.6,1447.2 1036.1,1448.5 1037.6,1449.8 1039.1,1451 1040.6,1452.3 1042.1,1453.5 1043.6,1454.7 1045.1,1455.9 1046.6,1457.1 1048.1,1458.3 1049.6,1459.5 1051.1,1460.7 1052.6,1461.8 1054.1,1463 1055.6,1464.1 1057.1,1465.2 1058.6,1466.4 1060.1,1467.5 1061.6,1468.6 1063.1,1469.7 1064.6,1470.8 1066.1,1471.8 1067.6,1472.9 1069.1,1474 1070.6,1475 1072.1,1476.1 1073.6,1477.1 1075.1,1478.1 1076.6,1479.1 1078.1,1480.1 1079.6,1481.1 1081.1,1482.1 1082.6,1483.1 1084.1,1484.1 1085.6,1485 1087.1,1486 1088.6,1486.9 1090.1,1487.9 1091.6,1488.8 1093.1,1489.7 1094.6,1490.6 1096.1,1491.5 1097.6,1492.4 1099.1,1493.3 1100.6,1494.2 1102.1,1495.1 1103.6,1496 1105.1,1496.8 1106.6,1497.7 1108.1,1498.5 1109.6,1499.4 1111.1,1500.2 1112.6,1501 1114.1,1501.8 1115.6,1502.6 1117.1,1503.4 1118.6,1504.2 1120.1,1505 1121.6,1505.8 1123.1,1506.6 1124.6,1507.3 1126.1,1508.1 1127.6,1508.8 1129.1,1509.6 1130.6,1510.3 1132.1,1511.1 1133.6,1511.8 1135.1,1512.5 1136.6,1513.2 1138.1,1513.9 1139.6,1514.6 1141.1,1515.3 1142.6,1516 1144.1,1516.7 1145.6,1517.4 1147.1,1518 1148.6,1518.7 1150.1,1519.3 1151.6,1520 1153.1,1520.6 1154.6,1521.3 1156.1,1521.9 1157.6,1522.5 1159.1,1523.1 1160.6,1523.8 1162.1,1524.4 1163.6,1525 1165.1,1525.6 1166.6,1526.2 1168.1,1526.7 1169.6,1527.3 1171.1,1527.9 1172.6,1528.4 1174.1,1529 1175.6,1529.6 1177.1,1530.1 1178.6,1530.7 1180.1,1531.2 1181.6,1531.7 1183.1,1532.3 1184.6,1532.8 1186.1,1533.3 1187.6,1533.8 1189.1,1534.3 1190.6,1534.8 1192.1,1535.3 1193.6,1535.8 1195.1,1536.3 1196.6,1536.8 1198.1,1537.2 1199.6,1537.7 1201.1,1538.2 1202.6,1538.6 1204.1,1539.1 1205.6,1539.5 1207.1,1540 1208.6,1540.4 1210.1,1540.9 1211.6,1541.3 1213.1,1541.7 1214.6,1542.1 1216.1,1542.5 1217.6,1543 1219.1,1543.4 1220.6,1543.8 1222.1,1544.2 1223.6,1544.6 1225.1,1544.9 1226.6,1545.3 1228.1,1545.7 1229.6,1546.1 1231.1,1546.5 1232.6,1546.8 1234.1,1547.2 1235.6,1547.5 1237.1,1547.9 1238.6,1548.2 1240.1,1548.6 1241.6,1548.9 1243.1,1549.3 1244.6,1549.6 1246.1,1549.9 1247.6,1550.2 1249.1,1550.6 1250.6,1550.9 1252.1,1551.2 1253.5,1551.5 1255,1551.8 1256.5,1552.1 1258,1552.4 1259.5,1552.7 1261,1553 1262.5,1553.3 1264,1553.6 1265.5,1553.8 1267,1554.1 1268.5,1554.4 1270,1554.6 1271.5,1554.9 1273,1555.2 1274.5,1555.4 1276,1555.7 1277.5,1555.9 1279,1556.2 1280.5,1556.4 1282,1556.7 1283.5,1556.9 1285,1557.1 1286.5,1557.4 1288,1557.6 1289.5,1557.8 1291,1558 1292.5,1558.2 1294,1558.5 1295.5,1558.7 1297,1558.9 1298.5,1559.1 1300,1559.3 1301.5,1559.5 1303,1559.7 1304.5,1559.9 1306,1560.1 1307.5,1560.2 1309,1560.4 1310.5,1560.6 1312,1560.8 1313.5,1561 1315,1561.1 1316.5,1561.3 1318,1561.5 1319.5,1561.7 1321,1561.8 1322.5,1562 1324,1562.1 1325.5,1562.3 1327,1562.5 1328.5,1562.6 1330,1562.8 1331.5,1562.9 1333,1563.1 1334.5,1563.2 1336,1563.3 1337.5,1563.5 1339,1563.6 1340.5,1563.7 1342,1563.9 1343.5,1564 1345,1564.1 1346.5,1564.3 1348,1564.4 1349.5,1564.5 1351,1564.6 1352.5,1564.8 1354,1564.9 1355.5,1565 1357,1565.1 1358.5,1565.2 1360,1565.3 1361.5,1565.4 1363,1565.5 1364.5,1565.6 1366,1565.7 1367.5,1565.8 1369,1565.9 1370.5,1566 1372,1566.1 1373.5,1566.2 1375,1566.3 1376.5,1566.4 1378,1566.5 1379.5,1566.6 1381,1566.7 1382.5,1566.8 1384,1566.8 1385.5,1566.8 1387,1566.8 1388.5,1566.8 1390,1566.8 1391.5,1566.8 1393,1566.8 1394.5,1566.8 1396,1566.8 1397.5,1566.8 1399,1566.8 1400.5,1566.8 1402,1566.8 1403.5,1566.8 1405,1566.8 1406.5,1566.8 1408,1566.8 1409.5,1566.8 1411,1566.8 1412.5,1566.8 1414,1566.8 1415.5,1566.8 1417,1566.8 1418.5,1566.8 1420,1566.8 1421.5,1566.8 1423,1566.8 1424.5,1566.8 1426,1566.8 1427.5,1566.8 1429,1566.8 1430.5,1566.8 1432,1566.8 1433.5,1566.8 1435,1566.8 1436.5,1566.8 1438,1566.8 1439.5,1566.8 1441,1566.8 1442.5,1566.8 1444,1566.8 1445.5,1566.8 1447,1566.8 1448.5,1566.8 1450,1566.8 1451.5,1566.8 1453,1566.8 1454.5,1566.8 1456,1566.8 1457.5,1566.8 1459,1566.8 1460.5,1566.8 1462,1566.8 1463.5,1566.8 1465,1566.8 1466.5,1566.8 1468,1566.8 1469.5,1566.8 1471,1566.8 1472.5,1566.8 1474,1566.8 1475.5,1566.8 1477,1566.8 1478.5,1566.8 1480,1566.8 1481.5,1566.8 1483,1566.8 1484.5,1566.8 1486,1566.8 1487.5,1566.8 1489,1566.8 1490.5,1566.8 1492,1566.8 1493.5,1566.8 1495,1566.8 1496.5,1566.8 1498,1566.8 1498,1566.8" stroke="#959595" stroke-width="4.4" fill="none" stroke-linejoin="round"/>
<polyline points="816.7,278.2 816.9,280.7 817.1,282.3 817.3,283.8 817.5,285.4 817.7,287 817.9,288.5 818.1,290.1 818.3,291.7 818.5,293.2 818.7,294.8 818.9,296.3 819.1,297.9 819.3,299.5 819.5,301 819.7,302.6 819.9,304.1 820.1,305.6 820.3,307.2 820.5,308.7 820.7,310.3 820.9,311.8 821.1,313.3 821.3,314.9 821.5,316.4 821.7,317.9 821.9,319.5 822.1,321 822.3,322.5 822.5,324 822.7,325.6 822.9,327.1 823.1,328.6 823.3,330.1 823.5,331.6 823.7,333.1 823.9,334.7 824.1,336.2 824.3,337.7 824.5,339.2 824.7,340.7 824.9,342.2 825.1,343.7 825.3,345.2 825.5,346.7 825.7,348.2 825.9,349.7 826.1,351.1 826.3,352.6 826.5,354.1 826.7,355.6 826.9,357.1 827.1,358.6 827.3,360 827.5,361.5 827.7,363 827.9,364.5 828.1,365.9 828.3,367.4 828.5,368.9 828.7,370.3 828.9,371.8 829.1,373.3 829.3,374.7 829.5,376.2 829.7,377.7 829.9,379.1 830.1,380.6 830.3,382 830.5,383.5 830.7,384.9 830.9,386.4 831.1,387.8 831.3,389.3 831.5,390.7 831.7,392.1 831.9,393.6 832.1,395 832.3,396.4 832.5,397.9 832.7,399.3 832.9,400.7 833.1,402.2 833.3,403.6 833.5,405 833.7,406.4 833.9,407.9 834.1,409.3 834.3,410.7 834.6,412.1 834.8,413.5 835,414.9 835.2,416.4 835.4,417.8 835.6,419.2 835.8,420.6 836,422 836.2,423.4 836.4,424.8 836.6,426.2 836.8,427.6 837,429 837.2,430.4 837.4,431.8 837.6,433.1 837.8,434.5 838,435.9 838.2,437.3 838.4,438.7 838.6,440.1 838.8,441.5 839,442.8 839.2,444.2 839.4,445.6 839.6,447 839.8,448.3 840,449.7 840.2,451.1 840.4,452.4 840.6,453.8 840.8,455.2 841,456.5 841.2,457.9 841.4,459.2 841.6,460.6 841.8,462 842,463.3 842.2,464.7 842.4,466 842.6,467.4 842.8,468.7 843,470.1 843.2,471.4 843.4,472.7 843.6,474.1 843.8,475.4 844,476.8 844.2,478.1 844.4,479.4 844.6,480.8 844.8,482.1 845,483.4 845.2,484.7 845.4,486.1 845.6,487.4 845.8,488.7 846,490 846.2,491.4 846.4,492.7 846.6,494 846.8,495.3 847,496.6 847.2,497.9 847.4,499.2 847.6,500.5 847.8,501.9 848,503.2 848.2,504.5 848.4,505.8 848.6,507.1 848.8,508.4 849,509.7 849.2,511 849.4,512.2 849.6,513.5 849.8,514.8 850,516.1 850.2,517.4 850.4,518.7 850.6,520 850.8,521.3 851,522.5 851.2,523.8 851.4,525.1 851.6,526.4 851.8,527.7 852,528.9 852.2,530.2 852.4,531.5 852.6,532.7 852.8,534 853,535.3 853.2,536.5 853.4,537.8 853.6,539.1 853.8,540.3 854,541.6 854.2,542.8 854.5,544.1 854.7,545.3 854.9,546.6 855.1,547.8 855.3,549.1 855.5,550.3 855.7,551.6 855.9,552.8 856.1,554.1 856.3,555.3 856.5,556.6 856.7,557.8 858.2,567 859.7,576.1 861.2,585.1 862.7,594.1 864.2,602.9 865.7,611.7 867.2,620.4 868.7,629.1 870.2,637.6 871.7,646.1 873.2,654.5 874.7,662.8 876.2,671.1 877.7,679.2 879.2,687.3 880.7,695.3 882.2,703.3 883.7,711.2 885.2,719 886.7,726.7 888.2,734.4 889.7,742 891.2,749.5 892.7,757 894.2,764.4 895.7,771.7 897.2,779 898.7,786.2 900.2,793.3 901.7,800.4 903.2,807.4 904.7,814.3 906.2,821.2 907.6,828 909.1,834.8 910.6,841.5 912.1,848.1 913.6,854.7 915.1,861.2 916.6,867.7 918.1,874.1 919.6,880.4 921.1,886.7 922.6,892.9 924.1,899.1 925.6,905.2 927.1,911.3 928.6,917.3 930.1,923.2 931.6,929.1 933.1,935 934.6,940.8 936.1,946.5 937.6,952.2 939.1,957.8 940.6,963.4 942.1,969 943.6,974.4 945.1,979.9 946.6,985.3 948.1,990.6 949.6,995.9 951.1,1001.2 952.6,1006.4 954.1,1011.5 955.6,1016.6 957.1,1021.7 958.6,1026.7 960.1,1031.7 961.6,1036.6 963.1,1041.5 964.6,1046.3 966.1,1051.1 967.6,1055.8 969.1,1060.5 970.6,1065.2 972.1,1069.8 973.6,1074.4 975.1,1079 976.6,1083.5 978.1,1087.9 979.6,1092.3 981.1,1096.7 982.6,1101.1 984.1,1105.4 985.6,1109.6 987.1,1113.8 988.6,1118 990.1,1122.2 991.6,1126.3 993.1,1130.4 994.6,1134.4 996.1,1138.4 997.6,1142.4 999.1,1146.3 1000.6,1150.2 1002.1,1154.1 1003.6,1157.9 1005.1,1161.7 1006.6,1165.5 1008.1,1169.2 1009.6,1172.9 1011.1,1176.6 1012.6,1180.2 1014.1,1183.8 1015.6,1187.3 1017.1,1190.9 1018.6,1194.4 1020.1,1197.9 1021.6,1201.3 1023.1,1204.7 1024.6,1208.1 1026.1,1211.4 1027.6,1214.7 1029.1,1218 1030.6,1221.3 1032.1,1224.5 1033.6,1227.7 1035.1,1230.9 1036.6,1234 1038.1,1237.2 1039.6,1240.3 1041.1,1243.3 1042.6,1246.4 1044.1,1249.4 1045.6,1252.3 1047.1,1255.3 1048.6,1258.2 1050.1,1261.1 1051.6,1264 1053.1,1266.9 1054.6,1269.7 1056.1,1272.5 1057.6,1275.3 1059.1,1278.1 1060.6,1280.8 1062.1,1283.5 1063.6,1286.2 1065.1,1288.8 1066.6,1291.5 1068.1,1294.1 1069.6,1296.7 1071.1,1299.3 1072.6,1301.8 1074.1,1304.3 1075.6,1306.8 1077.1,1309.3 1078.6,1311.8 1080.1,1314.2 1081.6,1316.6 1083.1,1319 1084.6,1321.4 1086.1,1323.8 1087.6,1326.1 1089.1,1328.4 1090.6,1330.7 1092.1,1333 1093.6,1335.2 1095.1,1337.5 1096.6,1339.7 1098.1,1341.9 1099.6,1344 1101.1,1346.2 1102.6,1348.3 1104.1,1350.4 1105.6,1352.5 1107.1,1354.6 1108.6,1356.7 1110.1,1358.7 1111.6,1360.8 1113.1,1362.8 1114.6,1364.8 1116.1,1366.7 1117.6,1368.7 1119.1,1370.6 1120.6,1372.6 1122.1,1374.5 1123.6,1376.4 1125.1,1378.2 1126.6,1380.1 1128.1,1381.9 1129.6,1383.8 1131.1,1385.6 1132.6,1387.4 1134.1,1389.1 1135.6,1390.9 1137.1,1392.7 1138.6,1394.4 1140.1,1396.1 1141.6,1397.8 1143.1,1399.5 1144.6,1401.2 1146.1,1402.8 1147.6,1404.5 1149.1,1406.1 1150.6,1407.7 1152.1,1409.3 1153.6,1410.9 1155.1,1412.5 1156.6,1414.1 1158.1,1415.6 1159.6,1417.2 1161.1,1418.7 1162.6,1420.2 1164.1,1421.7 1165.6,1423.2 1167.1,1424.7 1168.6,1426.1 1170.1,1427.6 1171.6,1429 1173.1,1430.4 1174.6,1431.8 1176.1,1433.2 1177.6,1434.6 1179.1,1436 1180.6,1437.4 1182.1,1438.7 1183.6,1440.1 1185.1,1441.4 1186.6,1442.7 1188.1,1444 1189.6,1445.3 1191.1,1446.6 1192.6,1447.9 1194.1,1449.2 1195.6,1450.4 1197.1,1451.7 1198.6,1452.9 1200.1,1454.1 1201.6,1455.3 1203.1,1456.5 1204.6,1457.7 1206.1,1458.9 1207.6,1460.1 1209.1,1461.3 1210.6,1462.4 1212.1,1463.6 1213.6,1464.7 1215.1,1465.8 1216.6,1466.9 1218.1,1468 1219.6,1469.1 1221.1,1470.2 1222.6,1471.3 1224.1,1472.4 1225.6,1473.4 1227.1,1474.5 1228.6,1475.5 1230.1,1476.6 1231.6,1477.6 1233.1,1478.6 1234.6,1479.6 1236.1,1480.6 1237.6,1481.6 1239.1,1482.6 1240.6,1483.6 1242.1,1484.6 1243.6,1485.5 1245.1,1486.5 1246.6,1487.4 1248.1,1488.4 1249.6,1489.3 1251.1,1490.2 1252.6,1491.1 1254.1,1492 1255.6,1492.9 1257.1,1493.8 1258.6,1494.7 1260.1,1495.6 1261.6,1496.5 1263.1,1497.3 1264.6,1498.2 1266.1,1499 1267.6,1499.9 1269.1,1500.7 1270.6,1501.5 1272.1,1502.3 1273.6,1503.2 1275.1,1504 1276.6,1504.8 1278.1,1505.6 1279.6,1506.3 1281.1,1507.1 1282.6,1507.9 1284.1,1508.6 1285.6,1509.4 1287.1,1510.2 1288.6,1510.9 1290.1,1511.6 1291.6,1512.4 1293.1,1513.1 1294.6,1513.8 1296.1,1514.5 1297.6,1515.2 1299.1,1515.9 1300.6,1516.6 1302.1,1517.3 1303.6,1518 1305.1,1518.7 1306.6,1519.3 1308.1,1520 1309.6,1520.6 1311.1,1521.3 1312.6,1521.9 1314.1,1522.6 1315.6,1523.2 1317.1,1523.8 1318.6,1524.5 1320.1,1525.1 1321.6,1525.7 1323.1,1526.3 1324.6,1526.9 1326.1,1527.5 1327.6,1528.1 1329.1,1528.6 1330.6,1529.2 1332.1,1529.8 1333.6,1530.3 1335.1,1530.9 1336.6,1531.5 1338.1,1532 1339.6,1532.5 1341.1,1533.1 1342.6,1533.6 1344.1,1534.1 1345.6,1534.6 1347.1,1535.2 1348.6,1535.7 1350.1,1536.2 1351.5,1536.7 1353,1537.2 1354.5,1537.7 1356,1538.1 1357.5,1538.6 1359,1539.1 1360.5,1539.6 1362,1540 1363.5,1540.5 1365,1540.9 1366.5,1541.4 1368,1541.8 1369.5,1542.3 1371,1542.7 1372.5,1543.1 1374,1543.5 1375.5,1544 1377,1544.4 1378.5,1544.8 1380,1545.2 1381.5,1545.6 1383,1546 1384.5,1546.4 1386,1546.8 1387.5,1547.1 1389,1547.5 1390.5,1547.9 1392,1548.3 1393.5,1548.6 1395,1549 1396.5,1549.3 1398,1549.7 1399.5,1550 1401,1550.4 1402.5,1550.7 1404,1551 1405.5,1551.4 1407,1551.7 1408.5,1552 1410,1552.3 1411.5,1552.6 1413,1552.9 1414.5,1553.3 1416,1553.6 1417.5,1553.8 1419,1554.1 1420.5,1554.4 1422,1554.7 1423.5,1555 1425,1555.3 1426.5,1555.5 1428,1555.8 1429.5,1556.1 1431,1556.3 1432.5,1556.6 1434,1556.9 1435.5,1557.1 1437,1557.4 1438.5,1557.6 1440,1557.9 1441.5,1558.1 1443,1558.3 1444.5,1558.6 1446,1558.8 1447.5,1559 1449,1559.2 1450.5,1559.5 1452,1559.7 1453.5,1559.9 1455,1560.1 1456.5,1560.3 1458,1560.5 1459.5,1560.7 1461,1560.9 1462.5,1561.1 1464,1561.3 1465.5,1561.5 1467,1561.7 1468.5,1561.9 1470,1562 1471.5,1562.2 1473,1562.4 1474.5,1562.6 1476,1562.7 1477.5,1562.9 1479,1563.1 1480.5,1563.2 1482,1563.4 1483.5,1563.5 1485,1563.7 1486.5,1563.8 1488,1564 1489.5,1564.1 1491,1564.3 1492.5,1564.4 1494,1564.6 1495.5,1564.7 1497,1564.8 1498.5,1565 1500,1565.1 1501.5,1565.2 1503,1565.3 1504.5,1565.5 1506,1565.6 1507.5,1565.7 1509,1565.8 1510.5,1565.9 1512,1566 1513.5,1566.2 1515,1566.3 1516.5,1566.4 1518,1566.5 1519.5,1566.6 1521,1566.7 1522.5,1566.8 1524,1566.8 1525.5,1566.8 1527,1566.8 1528.5,1566.8 1530,1566.8 1531.5,1566.8 1533,1566.8 1534.5,1566.8 1536,1566.8 1537.5,1566.8 1539,1566.8 1540.5,1566.8 1542,1566.8 1543.5,1566.8 1545,1566.8 1546.5,1566.8 1548,1566.8 1549.5,1566.8 1551,1566.8 1552.5,1566.8 1554,1566.8 1555.5,1566.8 1557,1566.8 1558.5,1566.8 1560,1566.8 1561.5,1566.8 1563,1566.8 1564.5,1566.8 1566,1566.8 1567.5,1566.8 1569,1566.8 1570.5,1566.8 1572,1566.8 1572,1566.8" stroke="#787878" stroke-width="4.4" fill="none" stroke-linejoin="round"/>
<polyline points="1130.6,278.2 1130.6,282.2 1130.8,283.7 1131,285.3 1131.2,286.9 1131.4,288.5 1131.6,290 1131.8,291.6 1132,293.2 1132.2,294.8 1132.4,296.3 1132.6,297.9 1132.8,299.4 1133,301 1133.2,302.6 1133.4,304.1 1133.6,305.7 1133.8,307.2 1134,308.8 1134.2,310.3 1134.4,311.9 1134.6,313.4 1134.8,315 1135,316.5 1135.2,318 1135.4,319.6 1135.6,321.1 1135.8,322.7 1136,324.2 1136.2,325.7 1136.4,327.2 1136.6,328.8 1136.8,330.3 1137,331.8 1137.2,333.3 1137.4,334.9 1137.6,336.4 1137.8,337.9 1138,339.4 1138.2,340.9 1138.4,342.4 1138.6,343.9 1138.8,345.4 1139,347 1139.2,348.5 1139.4,350 1139.6,351.5 1139.8,353 1140,354.4 1140.2,355.9 1140.4,357.4 1140.6,358.9 1140.8,360.4 1141.1,361.9 1141.3,363.4 1141.5,364.9 1141.7,366.3 1141.9,367.8 1142.1,369.3 1142.3,370.8 1142.5,372.3 1142.7,373.7 1142.9,375.2 1143.1,376.7 1143.3,378.1 1143.5,379.6 1143.7,381.1 1143.9,382.5 1144.1,384 1144.3,385.4 1144.5,386.9 1144.7,388.4 1144.9,389.8 1145.1,391.3 1145.3,392.7 1145.5,394.2 1145.7,395.6 1145.9,397 1146.1,398.5 1146.3,399.9 1146.5,401.4 1146.7,402.8 1146.9,404.2 1147.1,405.7 1147.3,407.1 1147.5,408.5 1147.7,410 1147.9,411.4 1148.1,412.8 1148.3,414.2 1148.5,415.7 1148.7,417.1 1148.9,418.5 1149.1,419.9 1149.3,421.3 1149.5,422.7 1149.7,424.1 1149.9,425.6 1150.1,427 1150.3,428.4 1150.5,429.8 1150.7,431.2 1150.9,432.6 1151.1,434 1151.3,435.4 1151.5,436.8 1151.7,438.2 1151.9,439.6 1152.1,440.9 1152.3,442.3 1152.5,443.7 1152.7,445.1 1152.9,446.5 1153.1,447.9 1153.3,449.3 1153.5,450.6 1153.7,452 1153.9,453.4 1154.1,454.8 1154.3,456.1 1154.5,457.5 1154.7,458.9 1154.9,460.2 1155.1,461.6 1155.3,463 1155.5,464.3 1155.7,465.7 1155.9,467.1 1156.1,468.4 1156.3,469.8 1156.5,471.1 1156.7,472.5 1156.9,473.8 1157.1,475.2 1157.3,476.5 1157.5,477.9 1157.7,479.2 1157.9,480.5 1158.1,481.9 1158.3,483.2 1158.5,484.6 1158.7,485.9 1158.9,487.2 1159.1,488.6 1159.3,489.9 1159.5,491.2 1159.7,492.6 1159.9,493.9 1160.1,495.2 1160.3,496.5 1160.5,497.9 1160.7,499.2 1161,500.5 1161.2,501.8 1161.4,503.1 1161.6,504.4 1161.8,505.8 1162,507.1 1162.2,508.4 1162.4,509.7 1162.6,511 1162.8,512.3 1163,513.6 1163.2,514.9 1163.4,516.2 1163.6,517.5 1163.8,518.8 1164,520.1 1164.2,521.4 1164.4,522.7 1164.6,524 1164.8,525.2 1165,526.5 1165.2,527.8 1165.4,529.1 1165.6,530.4 1165.8,531.7 1166,532.9 1166.2,534.2 1166.4,535.5 1166.6,536.8 1166.8,538 1167,539.3 1167.2,540.6 1167.4,541.9 1167.6,543.1 1167.8,544.4 1168,545.6 1168.2,546.9 1168.4,548.2 1168.6,549.4 1168.8,550.7 1169,551.9 1169.2,553.2 1169.4,554.5 1169.6,555.7 1169.8,557 1170,558.2 1170.2,559.4 1170.4,560.7 1170.6,561.9 1172.1,571.2 1173.6,580.3 1175.1,589.4 1176.6,598.4 1178.1,607.3 1179.6,616.1 1181.1,624.9 1182.6,633.5 1184.1,642.1 1185.6,650.7 1187.1,659.1 1188.6,667.5 1190.1,675.8 1191.6,684 1193.1,692.1 1194.6,700.2 1196.1,708.2 1197.6,716.1 1199.1,724 1200.6,731.8 1202.1,739.5 1203.6,747.2 1205.1,754.8 1206.6,762.3 1208.1,769.7 1209.6,777.1 1211.1,784.5 1212.6,791.7 1214.1,798.9 1215.6,806 1217.1,813.1 1218.6,820.1 1220.1,827.1 1221.6,833.9 1223.1,840.8 1224.6,847.5 1226.1,854.2 1227.6,860.9 1229.1,867.5 1230.6,874 1232.1,880.5 1233.6,886.9 1235.1,893.2 1236.6,899.5 1238.1,905.8 1239.6,912 1241.1,918.1 1242.6,924.2 1244.1,930.3 1245.6,936.2 1247.1,942.2 1248.6,948 1250.1,953.9 1251.6,959.6 1253.1,965.4 1254.6,971 1256.1,976.7 1257.6,982.2 1259.1,987.8 1260.6,993.2 1262.1,998.7 1263.6,1004.1 1265.1,1009.4 1266.6,1014.7 1268.1,1019.9 1269.6,1025.1 1271.1,1030.3 1272.6,1035.4 1274.1,1040.5 1275.6,1045.5 1277.1,1050.5 1278.6,1055.4 1280.1,1060.3 1281.6,1065.2 1283.1,1070 1284.6,1074.7 1286.1,1079.5 1287.6,1084.1 1289.1,1088.8 1290.6,1093.4 1292.1,1098 1293.6,1102.5 1295.1,1107 1296.6,1111.4 1298.1,1115.8 1299.6,1120.2 1301.1,1124.5 1302.6,1128.8 1304.1,1133.1 1305.6,1137.3 1307.1,1141.5 1308.6,1145.6 1310.1,1149.7 1311.6,1153.8 1313.1,1157.9 1314.6,1161.9 1316.1,1165.8 1317.6,1169.8 1319.1,1173.7 1320.6,1177.6 1322.1,1181.4 1323.6,1185.2 1325.1,1189 1326.6,1192.7 1328.1,1196.4 1329.6,1200.1 1331.1,1203.8 1332.6,1207.4 1334.1,1211 1335.6,1214.5 1337.1,1218.1 1338.6,1221.5 1340.1,1225 1341.6,1228.4 1343.1,1231.9 1344.6,1235.2 1346.1,1238.6 1347.6,1241.9 1349.1,1245.2 1350.6,1248.5 1352.1,1251.7 1353.6,1254.9 1355.1,1258.1 1356.6,1261.3 1358.1,1264.4 1359.6,1267.5 1361.1,1270.6 1362.6,1273.6 1364.1,1276.7 1365.6,1279.7 1367.1,1282.6 1368.6,1285.6 1370.1,1288.5 1371.6,1291.4 1373.1,1294.3 1374.6,1297.1 1376.1,1300 1377.6,1302.8 1379.1,1305.6 1380.6,1308.3 1382.1,1311 1383.6,1313.8 1385.1,1316.5 1386.6,1319.1 1388.1,1321.8 1389.6,1324.4 1391.1,1327 1392.6,1329.6 1394.1,1332.1 1395.6,1334.7 1397.1,1337.2 1398.6,1339.7 1400.1,1342.1 1401.6,1344.6 1403.1,1347 1404.6,1349.4 1406.1,1351.8 1407.6,1354.2 1409.1,1356.5 1410.6,1358.9 1412.1,1361.2 1413.6,1363.5 1415.1,1365.8 1416.6,1368 1418.1,1370.3 1419.6,1372.5 1421.1,1374.7 1422.6,1376.9 1424.1,1379 1425.6,1381.2 1427.1,1383.3 1428.6,1385.4 1430.1,1387.5 1431.6,1389.6 1433.1,1391.7 1434.6,1393.7 1436.1,1395.8 1437.6,1397.8 1439.1,1399.8 1440.6,1401.8 1442.1,1403.7 1443.6,1405.7 1445.1,1407.6 1446.6,1409.6 1448.1,1411.5 1449.6,1413.4 1451.1,1415.2 1452.6,1417.1 1454.1,1419 1455.6,1420.8 1457.1,1422.6 1458.6,1424.4 1460.1,1426.2 1461.6,1428 1463.1,1429.8 1464.6,1431.5 1466.1,1433.3 1467.5,1435 1469,1436.7 1470.5,1438.4 1472,1440.1 1473.5,1441.7 1475,1443.4 1476.5,1445 1478,1446.6 1479.5,1448.2 1481,1449.8 1482.5,1451.4 1484,1453 1485.5,1454.5 1487,1456 1488.5,1457.6 1490,1459.1 1491.5,1460.6 1493,1462 1494.5,1463.5 1496,1464.9 1497.5,1466.4 1499,1467.8 1500.5,1469.2 1502,1470.6 1503.5,1471.9 1505,1473.3 1506.5,1474.6 1508,1476 1509.5,1477.3 1511,1478.6 1512.5,1479.9 1514,1481.2 1515.5,1482.4 1517,1483.7 1518.5,1484.9 1520,1486.1 1521.5,1487.3 1523,1488.5 1524.5,1489.7 1526,1490.9 1527.5,1492 1529,1493.2 1530.5,1494.3 1532,1495.4 1533.5,1496.5 1535,1497.6 1536.5,1498.7 1538,1499.8 1539.5,1500.8 1541,1501.9 1542.5,1502.9 1544,1504 1545.5,1505 1547,1506 1548.5,1507 1550,1508 1551.5,1508.9 1553,1509.9 1554.5,1510.9 1556,1511.8 1557.5,1512.7 1559,1513.7 1560.5,1514.6 1562,1515.5 1563.5,1516.4 1565,1517.3 1566.5,1518.2 1568,1519 1569.5,1519.9 1571,1520.7 1572.5,1521.6 1574,1522.4 1575.5,1523.2 1577,1524 1578.5,1524.9 1580,1525.6 1581.5,1526.4 1583,1527.2 1584.5,1528 1586,1528.8 1587.5,1529.5 1589,1530.3 1590.5,1531 1592,1531.7 1593.5,1532.4 1595,1533.2 1596.5,1533.9 1598,1534.6 1599.5,1535.2 1601,1535.9 1602.5,1536.6 1604,1537.2 1605.5,1537.9 1607,1538.5 1608.5,1539.2 1610,1539.8 1611.5,1540.4 1613,1541 1614.5,1541.6 1616,1542.2 1617.5,1542.8 1619,1543.3 1620.5,1543.9 1622,1544.4 1623.5,1545 1625,1545.5 1626.5,1546 1628,1546.5 1629.5,1547.1 1631,1547.6 1632.5,1548 1634,1548.5 1635.5,1549 1637,1549.5 1638.5,1549.9 1640,1550.4 1641.5,1550.8 1643,1551.3 1644.5,1551.7 1646,1552.1 1647.5,1552.5 1649,1552.9 1650.5,1553.3 1652,1553.7 1653.5,1554.1 1655,1554.5 1656.5,1554.9 1658,1555.2 1659.5,1555.6 1661,1555.9 1662.5,1556.3 1664,1556.6 1665.5,1556.9 1667,1557.3 1668.5,1557.6 1670,1557.9 1671.5,1558.2 1673,1558.5 1674.5,1558.8 1676,1559.1 1677.5,1559.4 1679,1559.7 1680.5,1559.9 1682,1560.2 1683.5,1560.5 1685,1560.7 1686.5,1561 1688,1561.2 1689.5,1561.5 1691,1561.7 1692.5,1562 1694,1562.2 1695.5,1562.4 1697,1562.6 1698.5,1562.8 1700,1563.1 1701.5,1563.3 1703,1563.5 1704.5,1563.7 1706,1563.9 1707.5,1564.1 1709,1564.2 1710.5,1564.4 1712,1564.6 1713.5,1564.8 1715,1565 1716.5,1565.1 1718,1565.3 1719.5,1565.5 1721,1565.6 1722.5,1565.8 1724,1566 1725.5,1566.1 1727,1566.3 1728.5,1566.4 1730,1566.6 1731.5,1566.7 1733,1566.8 1734.5,1566.8 1736,1566.8 1737.5,1566.8 1739,1566.8 1740.5,1566.8 1742,1566.8 1743.5,1566.8 1745,1566.8 1746.5,1566.8 1748,1566.8 1749.5,1566.8 1751,1566.8 1752.5,1566.8 1754,1566.8 1755.5,1566.8 1757,1566.8 1758.5,1566.8 1760,1566.8 1761.5,1566.8 1763,1566.8 1764.5,1566.8 1766,1566.8 1767.5,1566.8 1769,1566.8 1770.5,1566.8 1772,1566.8 1772,1566.8" stroke="#777777" stroke-width="4.4" fill="none" stroke-linejoin="round"/>
<polyline points="1040,278 1041.5,278 1043,278 1044.5,278 1046,278.1 1047.5,278.1 1049,278.1 1050.5,278.1 1052,278.1 1053.5,278.2 1055,278.2 1056.5,278.2 1058,278.3 1059.5,278.3 1061,278.3 1062.5,278.4 1064,278.4 1065.5,278.4 1067,278.5 1068.5,278.5 1070,278.6 1071.5,278.6 1073,278.6 1074.5,278.7 1076,278.7 1077.5,278.8 1079,278.8 1080.5,278.9 1082,278.9 1083.5,279 1085,279 1086.5,279.1 1088,279.1 1089.5,279.2 1091,279.2 1092.5,279.3 1094,279.3 1095.5,279.4 1097,279.4 1098.5,279.5 1100,279.6 1101.5,279.6 1103,279.7 1104.5,279.7 1106,279.8 1107.5,279.8 1109,279.9 1110.5,279.9 1112,280 1113.5,280 1115,280.1 1116.5,280.2 1118,280.2 1119.5,280.3 1121,280.3 1122.5,280.4 1124,280.5 1125.5,280.5 1127,280.6 1128.5,280.7 1130,280.7 1131.5,280.8 1133,280.9 1134.5,280.9 1136,281 1137.5,281.1 1139,281.2 1140.5,281.2 1142,281.3 1143.5,281.4 1145,281.5 1146.5,281.5 1148,281.6 1149.5,281.7 1151,281.8 1152.5,281.9 1154,282 1155.5,282 1157,282.1 1158.5,282.2 1160,282.3 1161.5,282.4 1163,282.5 1164.5,282.6 1166,282.7 1167.5,282.8 1169,282.9 1170.5,283 1172,283.1 1173.5,283.2 1175,283.3 1176.5,283.4 1178,283.5 1179.5,283.6 1181,283.7 1182.5,283.8 1184,283.9 1185.5,284.1 1187,284.2 1188.5,284.3 1190,284.4 1191.5,284.6 1193,284.7 1194.5,284.8 1196,285 1197.5,285.1 1199,285.3 1200.5,285.4 1202,285.6 1203.5,285.7 1205,285.9 1206.5,286 1208,286.2 1209.5,286.4 1211,286.5 1212.5,286.7 1214,286.9 1215.5,287.1 1217,287.3 1218.5,287.5 1220,287.7 1221.5,287.9 1223,288.1 1224.5,288.3 1226,288.5 1227.5,288.8 1229,289 1230.5,289.2 1232,289.5 1233.5,289.7 1235,290 1236.5,290.2 1238,290.5 1239.5,290.7 1241,291 1242.5,291.3 1244,291.6 1245.5,291.9 1247,292.2 1248.5,292.5 1250,292.8 1251.5,293.1 1253,293.4 1254.5,293.7 1256,294.1 1257.5,294.4 1259,294.8 1260.5,295.1 1262,295.5 1263.5,295.8 1265,296.2 1266.5,296.6 1268,297 1269.5,297.4 1271,297.8 1272.5,298.2 1274,298.6 1275.5,299.1 1277,299.5 1278.5,299.9 1280,300.4 1281.5,300.8 1283,301.3 1284.5,301.8 1286,302.3 1287.5,302.8 1289,303.3 1290.5,303.8 1292,304.3 1293.5,304.8 1295,305.4 1296.5,305.9 1298,306.5 1299.5,307 1301,307.6 1302.5,308.2 1304,308.8 1305.5,309.4 1307,310 1308.5,310.6 1310,311.2 1311.5,311.9 1313,312.5 1314.5,313.2 1316,313.9 1317.5,314.5 1319,315.2 1320.5,315.9 1322,316.7 1323.5,317.4 1325,318.1 1326.5,318.9 1328,319.7 1329.5,320.4 1331,321.2 1332.5,322 1334,322.9 1335.5,323.7 1337,324.5 1338.5,325.4 1340,326.3 1341.5,327.1 1343,328 1344.5,329 1346,329.9 1347.5,330.8 1349,331.8 1350.5,332.8 1352,333.7 1353.5,334.8 1355,335.8 1356.5,336.8 1358,337.9 1359.5,338.9 1361,340 1362.5,341.1 1364,342.2 1365.5,343.4 1367,344.5 1368.5,345.7 1370,346.9 1371.5,348.1 1373,349.3 1374.5,350.5 1376,351.8 1377.5,353 1379,354.3 1380.5,355.6 1382,357 1383.5,358.3 1385,359.7 1386.5,361.1 1388,362.5 1389.5,363.9 1391,365.3 1392.5,366.8 1394,368.3 1395.5,369.8 1397,371.3 1398.5,372.8 1400,374.4 1401.5,376 1403,377.6 1404.5,379.2 1406,380.9 1407.5,382.6 1409,384.3 1410.5,386 1412,387.7 1413.5,389.5 1415,391.3 1416.5,393.1 1418,395 1419.5,396.9 1421,398.8 1422.5,400.7 1424,402.7 1425.5,404.7 1427,406.7 1428.5,408.7 1430,410.8 1431.5,412.9 1433,415.1 1434.5,417.3 1436,419.5 1437.5,421.7 1439,424 1440.5,426.4 1442,428.7 1443.5,431.1 1445,433.5 1446.5,436 1448,438.5 1449.5,441.1 1451,443.6 1452.5,446.3 1454,448.9 1455.5,451.6 1457,454.4 1458.5,457.2 1460,460 1461.5,462.9 1463,465.8 1464.5,468.7 1466,471.7 1467.5,474.7 1469,477.8 1470.5,480.9 1472,484 1473.5,487.2 1475,490.4 1476.5,493.6 1478,496.8 1479.5,500.1 1481,503.5 1482.5,506.8 1484,510.2 1485.5,513.6 1487,517 1488.5,520.4 1490,523.9 1491.5,527.4 1493,530.9 1494.5,534.5 1496,538 1497.5,541.6 1499,545.2 1500.5,548.8 1502,552.5 1503.5,556.1 1505,559.8 1506.5,563.5 1508,567.1 1509.5,570.8 1511,574.6 1512.5,578.3 1514,582 1515.5,585.8 1517,589.5 1518.5,593.3 1520,597.1 1521.5,600.9 1523,604.7 1524.5,608.6 1526,612.4 1527.5,616.3 1529,620.2 1530.5,624.1 1532,628 1533.5,632 1535,635.9 1536.5,639.9 1538,643.9 1539.5,648 1541,652 1542.5,656.1 1544,660.2 1545.5,664.3 1547,668.5 1548.5,672.6 1550,676.8 1551.5,681.1 1553,685.3 1554.5,689.6 1556,693.9 1557.5,698.3 1559,702.6 1560.5,707 1562,711.5 1563.5,715.9 1565,720.4 1566.5,724.9 1568,729.5 1569.5,734.1 1571,738.7 1572.5,743.4 1574,748.1 1575.5,752.8 1577,757.6 1578.5,762.4 1580,767.2 1581.5,772.1 1583,777.1 1584.5,782 1586,787 1587.5,792 1589,797.1 1590.5,802.2 1592,807.3 1593.5,812.5 1595,817.7 1596.5,822.9 1598,828.1 1599.5,833.3 1601,838.6 1602.5,843.9 1604,849.2 1605.5,854.5 1607,859.8 1608.5,865.1 1610,870.4 1611.5,875.8 1613,881.1 1614.5,886.4 1616,891.7 1617.5,897.1 1619,902.4 1620.5,907.7 1622,913 1623.5,918.3 1625,923.5 1626.5,928.8 1628,934 1629.5,939.3 1631,944.5 1632.5,949.7 1634,954.9 1635.5,960.1 1637,965.2 1638.5,970.4 1640,975.5 1641.5,980.6 1643,985.7 1644.5,990.8 1646,995.9 1647.5,1001 1649,1006 1650.5,1011 1652,1016.1 1653.5,1021.1 1655,1026 1656.5,1031 1658,1035.9 1659.5,1040.9 1661,1045.8 1662.5,1050.7 1664,1055.5 1665.5,1060.4 1667,1065.2 1668.5,1070 1670,1074.8 1671.5,1079.6 1673,1084.3 1674.5,1089.1 1676,1093.8 1677.5,1098.5 1679,1103.1 1680.5,1107.8 1682,1112.4 1683.5,1117 1685,1121.6 1686.5,1126.2 1688,1130.7 1689.5,1135.2 1691,1139.7 1692.5,1144.2 1694,1148.6 1695.5,1153.1 1697,1157.5 1698.5,1161.9 1700,1166.3 1701.5,1170.7 1703,1175.1 1704.5,1179.5 1706,1183.9 1707.5,1188.3 1709,1192.8 1710.5,1197.2 1712,1201.7 1713.5,1206.1 1715,1210.6 1716.5,1215.1 1718,1219.7 1719.5,1224.3 1721,1228.9 1722.5,1233.5 1724,1238.2 1725.5,1242.9 1727,1247.7 1728.5,1252.5 1730,1257.4 1731.5,1262.3 1733,1267.2 1734.5,1272.2 1736,1277.2 1737.5,1282.3 1739,1287.4 1740.5,1292.5 1742,1297.6 1743.5,1302.7 1745,1307.8 1746.5,1312.9 1748,1318 1749.5,1323.1 1751,1328.1 1752.5,1333.2 1754,1338.2 1755.5,1343.1 1757,1348.1 1758.5,1352.9 1760,1357.8 1761.5,1362.5 1763,1367.2 1764.5,1371.9 1766,1376.4 1767.5,1380.9 1769,1385.3 1770.5,1389.6 1772,1393.8 1773.5,1397.9 1775,1401.9 1776.5,1405.8 1778,1409.7 1779.5,1413.4 1781,1417.1 1782.5,1420.7 1784,1424.2 1785.5,1427.6 1787,1431 1788.5,1434.3 1790,1437.4 1791.5,1440.6 1793,1443.6 1794.5,1446.6 1796,1449.5 1797.5,1452.3 1799,1455.1 1800.5,1457.7 1802,1460.4 1803.5,1462.9 1805,1465.4 1806.5,1467.8 1808,1470.2 1809.5,1472.5 1811,1474.8 1812.5,1476.9 1814,1479.1 1815.5,1481.1 1817,1483.2 1818.5,1485.1 1820,1487 1821.5,1488.9 1823,1490.7 1824.5,1492.5 1826,1494.2 1827.5,1495.9 1829,1497.5 1830.5,1499.1 1832,1500.6 1833.5,1502.1 1835,1503.6 1836.5,1505 1838,1506.4 1839.5,1507.7 1841,1509 1842.5,1510.3 1844,1511.6 1845.5,1512.8 1847,1514 1848.5,1515.1 1850,1516.3 1851.5,1517.4 1853,1518.5 1854.5,1519.5 1856,1520.6 1857.5,1521.6 1859,1522.6 1860.5,1523.6 1862,1524.5 1863.5,1525.5 1865,1526.4 1866.5,1527.3 1868,1528.2 1869.5,1529.1 1871,1530 1872.5,1530.9 1874,1531.7 1875.5,1532.6 1877,1533.5 1878.5,1534.3 1880,1535.2 1881.5,1536 1883,1536.9 1884.5,1537.7 1886,1538.6 1887.5,1539.4 1889,1540.3 1889.9,1540.8" stroke="#555555" stroke-width="4.4" fill="none" stroke-linejoin="round"/>
<path d="M219 93.4H1891.4" stroke="#9b9b9b" stroke-width="4.0" fill="none"/>
<path d="M1889.9 93.4V1571.4" stroke="#9f9f9f" stroke-width="4.2" fill="none"/>
<path d="M220.5 91.9V1572.9" stroke="#7b7b7b" stroke-width="4.4" fill="none"/>
<path d="M219 1571.4H1891.4" stroke="#545454" stroke-width="4.5" fill="none"/>
<g font-family="Liberation Sans, Arial, Helvetica, sans-serif" fill="#3a3a3a"><text transform="translate(185.35 1587.30) scale(0.9773 1.0156)" font-size="46">0</text><text transform="translate(160.63 1400.65) scale(0.9830 1.0156)" font-size="46">20</text><text transform="translate(161.64 1215.50) scale(0.9625 1.0156)" font-size="46">40</text><text transform="translate(160.63 1031.55) scale(0.9830 1.0156)" font-size="46">60</text><text transform="translate(160.63 847.20) scale(0.9830 1.0156)" font-size="46">80</text><text transform="translate(136.34 662.95) scale(0.9662 1.0156)" font-size="46">100</text><text transform="translate(136.34 478.60) scale(0.9662 1.0156)" font-size="46">120</text><text transform="translate(136.34 294.35) scale(0.9662 1.0156)" font-size="46">140</text><text transform="translate(136.34 109.50) scale(0.9662 1.0156)" font-size="46">160</text><text transform="translate(449.04 1635.50) scale(0.9889 1.0156)" font-size="46">10</text><text transform="translate(498.57 1607.00) scale(0.9643 1.0000)" font-size="31" fill="#4a4a4a">1</text><text transform="translate(828.00 1635.50) scale(1.0000 1.0312)" font-size="46">10</text><text transform="translate(877.57 1607.00) scale(0.9643 1.0682)" font-size="31" fill="#4a4a4a">2</text><text transform="translate(1211.22 1635.75) scale(0.9444 1.0312)" font-size="46">10</text><text transform="translate(1260.60 1607.00) scale(0.9000 1.0455)" font-size="31" fill="#4a4a4a">3</text><text transform="translate(1589.04 1636.00) scale(0.9889 1.0625)" font-size="46">10</text><text transform="translate(1636.47 1607.00) scale(1.0333 1.0455)" font-size="31" fill="#4a4a4a">4</text><text transform="translate(911.13 1685.00) scale(0.9668 0.9500)" font-size="46">Frequency/Hz</text><text transform="translate(113.20 1062.30) rotate(-90) scale(0.9733 0.9676)" font-size="46">Amplitude/V peak-peak</text><text transform="translate(611.49 1199.50) scale(0.9574 1.0156)" font-size="46">25</text><text transform="translate(729.07 1199.50) scale(0.9822 1.0156)" font-size="46">13</text><text transform="translate(873.35 1199.50) scale(0.9750 1.0156)" font-size="46">6.0</text><text transform="translate(1023.56 1199.50) scale(0.9862 1.0156)" font-size="46">1.5</text><text transform="translate(1336.96 1199.50) scale(0.9200 1.0156)" font-size="46">0.31</text><text transform="translate(1660.37 1015.80) scale(0.9667 1.0562)" font-size="46">Open</text></g></g></svg>
</body></html>
